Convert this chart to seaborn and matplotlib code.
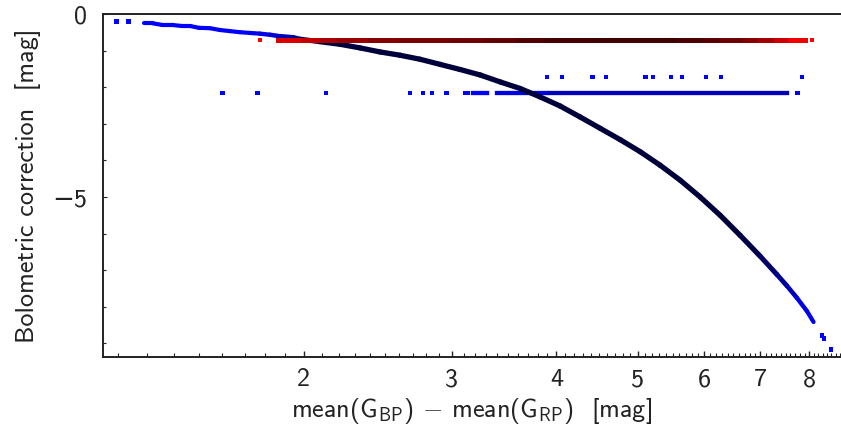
import numpy as np
import pandas as pd
import matplotlib
matplotlib.use("Agg")
import matplotlib.pyplot as plt
import seaborn as sns
from matplotlib.collections import LineCollection
from matplotlib.colors import LinearSegmentedColormap, LogNorm
from matplotlib.ticker import FixedLocator, FixedFormatter, MultipleLocator, NullFormatter

# Main relation: colour index vs bolometric correction (connected trace)
curve_bp_rp = [1.290, 1.323, 1.356, 1.392, 1.431, 1.464, 1.500, 1.546, 1.589,
               1.633, 1.679, 1.725, 1.773, 1.823, 1.874, 1.942, 1.979, 2.091,
               2.209, 2.334, 2.465, 2.604, 2.751, 2.906, 3.070, 3.244, 3.427,
               3.620, 3.824, 4.040, 4.268, 4.509, 4.763, 5.032, 5.315, 5.616,
               5.932, 6.267, 6.620, 6.994, 7.322, 7.526, 7.735, 7.950, 8.096]
curve_bc = [-0.25, -0.25, -0.29, -0.29, -0.32, -0.32, -0.37, -0.38, -0.43,
            -0.46, -0.49, -0.51, -0.53, -0.56, -0.60, -0.63, -0.68, -0.75,
            -0.82, -0.92, -1.03, -1.12, -1.23, -1.37, -1.51, -1.66, -1.85,
            -2.03, -2.26, -2.51, -2.81, -3.12, -3.43, -3.76, -4.13, -4.54,
            -5.00, -5.50, -6.05, -6.62, -7.12, -7.43, -7.76, -8.12, -8.42]
curve_density = [1, 1, 1, 1, 1, 1, 1, 1, 1,
                 1, 1, 1, 1.5, 2, 3, 6, 10, 30,
                 30, 30, 30, 30, 30, 30, 30, 30, 30,
                 30, 30, 30, 30, 30, 30, 30, 30, 30,
                 30, 30, 30, 20, 10, 5, 2.5, 1.5, 1]

# Constant-BC rows
red_row_bc = -0.70
red_row_bp_rp = [1.862, 2.0, 2.1, 2.2, 2.4, 2.6, 3.0, 3.3, 3.6, 3.9, 4.5,
                 5.0, 5.6, 6.0, 6.3, 6.7, 7.0, 7.3, 7.6, 7.913]
red_row_density = [1.5, 2, 3, 4, 5, 6.5, 8, 9, 12, 16, 18,
                   20, 18, 14, 11, 7, 5, 3, 1.5, 1]

blue_row_bc = -2.15
blue_row_start = [3.182, 3.399, 3.931]
blue_row_end = [3.306, 3.895, 7.526]
blue_row_density = [1.0, 1.8, 4.0]

# Individual sources
single_bp_rp = [1.197, 1.236, 8.284, 8.337, 8.492,
                1.601, 1.762, 2.126, 2.675, 2.774, 2.845, 2.957, 3.110, 3.134, 7.748,
                3.895, 4.059, 4.414, 4.580, 5.105, 5.214, 5.478, 5.642, 6.031, 6.284, 7.849,
                1.774, 8.067]
single_bc = [-0.20, -0.20, -8.79, -8.87, -9.17,
             -2.15, -2.15, -2.15, -2.15, -2.15, -2.15, -2.15, -2.15, -2.15, -2.15,
             -1.71, -1.71, -1.71, -1.71, -1.71, -1.71, -1.71, -1.71, -1.71, -1.71, -1.71,
             -0.70, -0.70]
single_group = ["blue"] * 26 + ["red"] * 2

x_ticks = [2, 3, 4, 5, 6, 7, 8]
x_tick_labels = ["2", "3", "4", "5", "6", "7", "8"]
y_ticks = [0, -5]
y_tick_labels = ["0", "\u22125"]

sns.set_theme(style="white")
plt.rcParams["font.family"] = ["cmss10", "DejaVu Sans"]
plt.rcParams["mathtext.fontset"] = "custom"
plt.rcParams["mathtext.rm"] = "cmss10"
plt.rcParams["mathtext.it"] = "cmss10"
plt.rcParams["mathtext.fallback"] = "cm"
plt.rcParams["axes.unicode_minus"] = False

blue_map = LinearSegmentedColormap.from_list("blues", ["#0000ff", "#0000a8", "#00003a"])
red_map = LinearSegmentedColormap.from_list("reds", ["#ff0000", "#8a0000", "#220000"])
norm = LogNorm(vmin=1, vmax=30, clip=True)

fig = plt.figure(figsize=(8.41, 4.36), dpi=100)
ax = fig.add_axes([0.1221, 0.1819, 0.8779, 0.7853])


def trace(xs, ys, dens, cmap, lw_min, lw_max, cap, z):
    pts = np.column_stack([xs, ys])
    segs = np.stack([pts[:-1], pts[1:]], axis=1)
    d = np.sqrt(np.asarray(dens[:-1], float) * np.asarray(dens[1:], float))
    t = norm(d)
    lc = LineCollection(segs, colors=cmap(t), linewidths=lw_min + (lw_max - lw_min) * t,
                        capstyle=cap, joinstyle="round", zorder=z)
    ax.add_collection(lc)


# blue row (runs of sources at constant BC)
for x0, x1, d in zip(blue_row_start, blue_row_end, blue_row_density):
    trace([x0, x1], [blue_row_bc, blue_row_bc], [d, d], blue_map, 3.1, 3.1, "projecting", 2)

# main relation
trace(curve_bp_rp, curve_bc, curve_density, blue_map, 3.0, 3.8, "round", 3)

# red row
trace(red_row_bp_rp, [red_row_bc] * len(red_row_bp_rp), red_row_density,
      red_map, 3.6, 3.6, "projecting", 4)

singles = pd.DataFrame({"bp_rp": single_bp_rp, "bc": single_bc, "group": single_group})
sns.scatterplot(data=singles, x="bp_rp", y="bc", hue="group",
                palette={"blue": "#0000ff", "red": "#ff0000"},
                marker="s", s=10, linewidth=0, legend=False, ax=ax, zorder=5)

ax.set_xscale("log")
ax.set_xlim(1.152, 8.73)
ax.set_ylim(-9.37, 0)

ax.xaxis.set_major_locator(FixedLocator(x_ticks))
ax.xaxis.set_major_formatter(FixedFormatter(x_tick_labels))
ax.xaxis.set_minor_locator(MultipleLocator(0.1))
ax.xaxis.set_minor_formatter(NullFormatter())
ax.yaxis.set_major_locator(FixedLocator(y_ticks))
ax.yaxis.set_major_formatter(FixedFormatter(y_tick_labels))
ax.yaxis.set_minor_locator(MultipleLocator(1))

ax.tick_params(axis="both", which="both", direction="in", color="#222222",
               labelcolor="#222222", labelsize=18.8, top=False, right=False,
               bottom=True, left=True)
ax.tick_params(axis="x", which="major", length=4, width=1.0, pad=8.5)
ax.tick_params(axis="x", which="minor", length=2.6, width=0.8)
ax.tick_params(axis="y", which="major", length=2.6, width=0.8, pad=11)
ax.tick_params(axis="y", which="minor", length=2.2, width=0.8)

for side in ("left", "bottom", "top"):
    ax.spines[side].set_visible(True)
    ax.spines[side].set_color("#222222")
    ax.spines[side].set_linewidth(1.4)
ax.spines["right"].set_visible(False)

ax.set_xlabel(r"mean($\mathregular{G_{BP}}$) $-$ mean($\mathregular{G_{RP}}$)  [mag]",
              fontsize=18.8, color="#222222", labelpad=3)
ax.set_ylabel("Bolometric correction  [mag]", fontsize=18.8, color="#222222", labelpad=8)

fig.savefig("out.png", dpi=100)
